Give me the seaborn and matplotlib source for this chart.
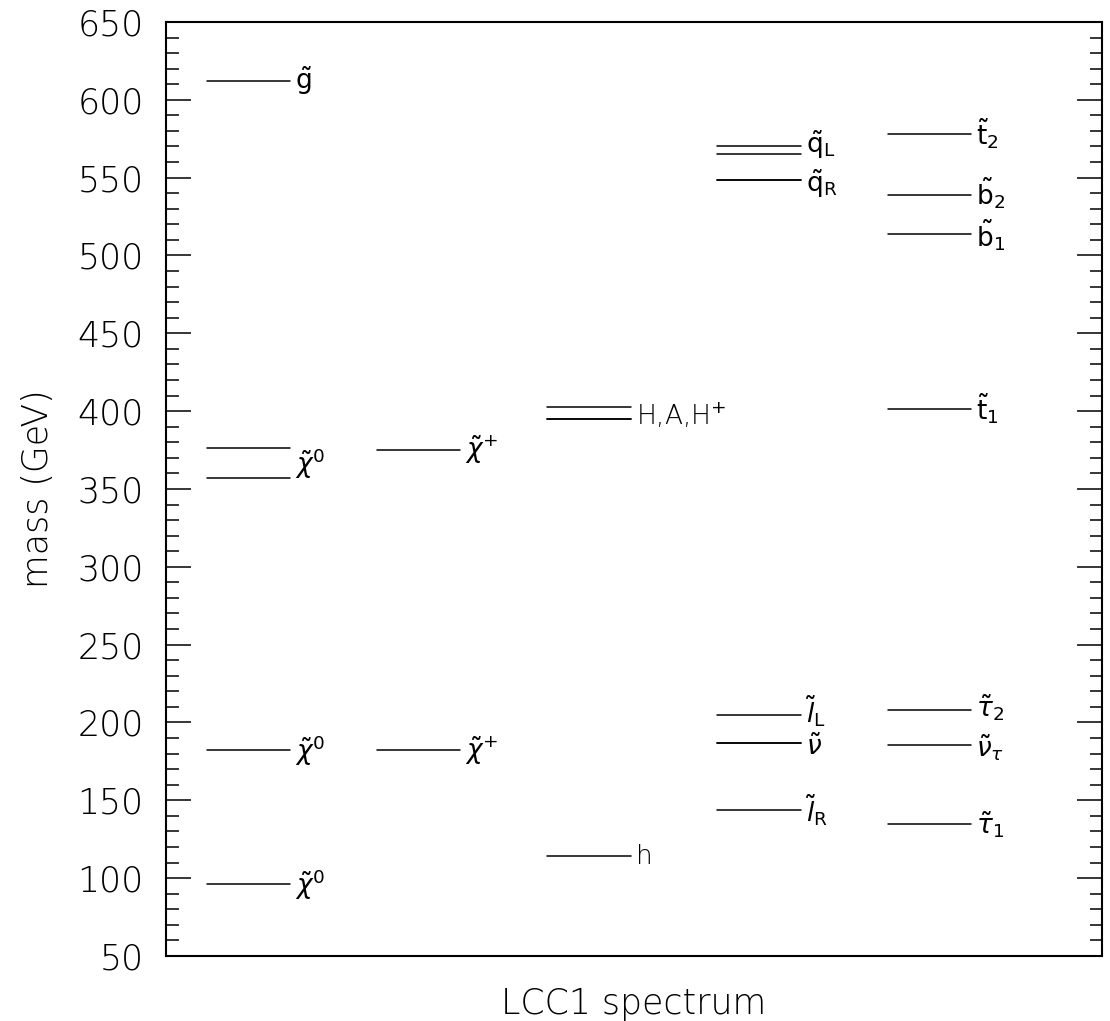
import matplotlib
matplotlib.use("Agg")
import matplotlib.pyplot as plt
import seaborn as sns
import pandas as pd
from matplotlib.ticker import MultipleLocator

# ---- data (masses in GeV) ----
col0_labels = [r"$\tilde{\mathrm{g}}$", r"$\tilde{\chi}^0$", r"$\tilde{\chi}^0$", r"$\tilde{\chi}^0$"]
col0_masses = [[612], [376, 357], [182], [96]]

col1_labels = [r"$\tilde{\chi}^{+}$", r"$\tilde{\chi}^{+}$"]
col1_masses = [[375], [182]]

col2_labels = [r"H,A,H$^{+}$", "h"]
col2_masses = [[402.5, 395, 395], [114]]

col3_labels = [r"$\tilde{\mathrm{q}}_{\mathrm{L}}$", r"$\tilde{\mathrm{q}}_{\mathrm{R}}$",
               r"$\tilde{l}_{\mathrm{L}}$", r"$\tilde{\nu}$", r"$\tilde{l}_{\mathrm{R}}$"]
col3_masses = [[570.5, 565], [548.3, 548.3], [204.5], [186.7, 186.7], [143.5]]

col4_labels = [r"$\tilde{\mathrm{t}}_2$", r"$\tilde{\mathrm{b}}_2$", r"$\tilde{\mathrm{b}}_1$",
               r"$\tilde{\mathrm{t}}_1$", r"$\tilde{\tau}_2$", r"$\tilde{\nu}_\tau$", r"$\tilde{\tau}_1$"]
col4_masses = [[578], [539], [514], [401.5], [208], [185.6], [134.6]]

y_ticks = [50, 100, 150, 200, 250, 300, 350, 400, 450, 500, 550, 600, 650]

columns = [(col0_labels, col0_masses), (col1_labels, col1_masses), (col2_labels, col2_masses),
           (col3_labels, col3_masses), (col4_labels, col4_masses)]

# small vertical nudges (GeV) so that close labels do not collide
nudge = {(3, 0): 3.5, (3, 1): -2.0, (3, 2): 3.0, (3, 3): -2.5,
         (4, 1): 1.0, (4, 2): -1.0, (4, 4): 1.5, (4, 5): -1.5}

# ---- build long table ----
rows = []
labels = []
lid = 0
for ci, (labs, masses) in enumerate(columns):
    x0, x1 = ci + 0.24, ci + 0.73
    for li, (lab, group) in enumerate(zip(labs, masses)):
        for m in group:
            rows.append({"x": x0, "mass": m, "lid": lid})
            rows.append({"x": x1, "mass": m, "lid": lid})
            lid += 1
        labels.append((x1, sum(group) / len(group) + nudge.get((ci, li), 0.0), lab))
df = pd.DataFrame(rows)

# ---- plot ----
sns.set_style("ticks", {"text.color": "black", "axes.labelcolor": "black",
                        "xtick.color": "black", "ytick.color": "black",
                        "axes.edgecolor": "black"})
plt.rcParams["font.family"] = ["DejaVu Sans"]
plt.rcParams["mathtext.fontset"] = "dejavusans"

fig = plt.figure(figsize=(11.10, 10.21), dpi=100)
ax = fig.add_axes([0.1495, 0.0637, 0.9928 - 0.1495, 0.9785 - 0.0637])

sns.lineplot(data=df, x="x", y="mass", units="lid", estimator=None, sort=False,
             color="black", lw=1.1, ax=ax, legend=False)

for x1, y, lab in labels:
    ax.text(x1 + 0.03, y, lab, fontsize=19, va="center", ha="left", color="black",
            fontweight="light")

ax.set_xlim(0, 5.5)
ax.set_ylim(50, 650)
ax.set_yticks(y_ticks)
ax.yaxis.set_minor_locator(MultipleLocator(10))
ax.set_xticks([])
ax.tick_params(axis="y", which="major", direction="in", length=18, width=1.1,
               left=True, right=True, labelsize=25, pad=16, colors="black")
ax.tick_params(axis="y", which="minor", direction="in", length=9, width=1.1,
               left=True, right=True, colors="black")
for lab in ax.get_yticklabels():
    lab.set_fontweight("light")
for s in ax.spines.values():
    s.set_linewidth(1.5)
    s.set_visible(True)
    s.set_color("black")

ax.set_xlabel("LCC1 spectrum", fontsize=25, labelpad=22, fontweight="light", color="black")
ax.set_ylabel("mass (GeV)", fontsize=25, labelpad=16, fontweight="light", color="black")

fig.savefig("out.png", dpi=100)
